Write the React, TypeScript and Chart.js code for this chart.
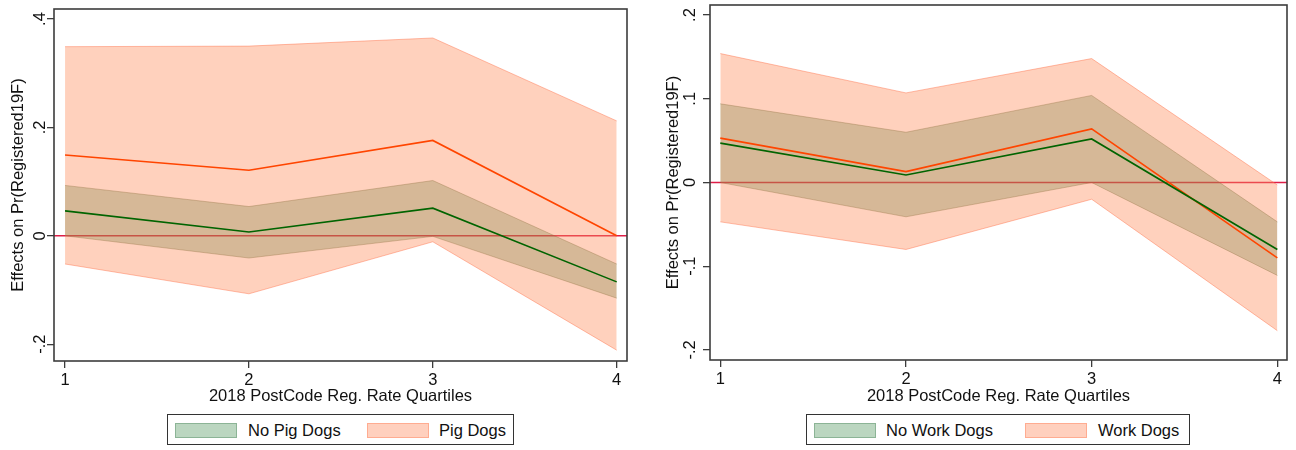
import React, { useEffect, useRef } from 'react';
import { Chart, registerables } from 'chart.js';
Chart.register(...registerables);

// ---------- data ----------
const quartiles = [1, 2, 3, 4];
const xTickValues = [1, 2, 3, 4];
const xTickLabels = ['1', '2', '3', '4'];

// Left panel: Pig Dogs
const pigEst = [0.149, 0.121, 0.176, 0.0];
const pigUpper = [0.349, 0.35, 0.365, 0.212];
const pigLower = [-0.052, -0.107, -0.011, -0.211];
const noPigEst = [0.046, 0.007, 0.051, -0.085];
const noPigUpper = [0.093, 0.054, 0.102, -0.052];
const noPigLower = [0.0, -0.041, -0.001, -0.115];
const leftYTickValues = [-0.2, 0, 0.2, 0.4];
const leftYTickLabels = ['-.2', '0', '.2', '.4'];
const leftLegendLabels = ['No Pig Dogs', 'Pig Dogs'];

// Right panel: Work Dogs
const workEst = [0.053, 0.013, 0.064, -0.09];
const workUpper = [0.154, 0.107, 0.148, -0.003];
const workLower = [-0.047, -0.08, -0.02, -0.177];
const noWorkEst = [0.047, 0.009, 0.052, -0.08];
const noWorkUpper = [0.094, 0.06, 0.104, -0.047];
const noWorkLower = [0.0, -0.041, 0.0, -0.111];
const rightYTickValues = [-0.2, -0.1, 0, 0.1, 0.2];
const rightYTickLabels = ['-.2', '-.1', '0', '.1', '.2'];
const rightLegendLabels = ['No Work Dogs', 'Work Dogs'];

const yTitle = 'Effects on Pr(Registered19F)';
const xTitle = '2018 PostCode Reg. Rate Quartiles';

// ---------- styles ----------
const FONT = '"Liberation Sans", Arial, Helvetica, sans-serif';
const FS = 16.5;
const TEXT = '#111';
const GREEN_FILL = 'rgba(0,100,20,0.27)';
const GREEN_EDGE = 'rgba(70,90,40,0.35)';
const ORANGE_FILL = 'rgba(255,140,90,0.4)';
const ORANGE_EDGE = 'rgba(255,110,70,0.45)';
const ORANGE_LINE = '#ff4500';
const GREEN_LINE = '#006400';
const ZERO_LINE = 'rgb(222,30,72)';
const FRAME = '#3c3c3c';

const pts = (ys: number[]) => quartiles.map((x, i) => ({ x, y: ys[i] }));

const zeroLinePlugin = {
  id: 'zeroLine',
  beforeDatasetsDraw(chart: any) {
    const { ctx, chartArea, scales } = chart;
    const y = scales.y.getPixelForValue(0);
    ctx.save();
    ctx.strokeStyle = ZERO_LINE;
    ctx.lineWidth = 1.5;
    ctx.beginPath();
    ctx.moveTo(chartArea.left, y);
    ctx.lineTo(chartArea.right, y);
    ctx.stroke();
    ctx.restore();
  },
};

const framePlugin = {
  id: 'frame',
  afterDatasetsDraw(chart: any) {
    const { ctx, chartArea } = chart;
    ctx.save();
    ctx.strokeStyle = FRAME;
    ctx.lineWidth = 1.6;
    ctx.strokeRect(chartArea.left, chartArea.top, chartArea.right - chartArea.left, chartArea.bottom - chartArea.top);
    ctx.restore();
  },
};

interface PanelSpec {
  est: number[]; upper: number[]; lower: number[];
  baseEst: number[]; baseUpper: number[]; baseLower: number[];
  yMin: number; yMax: number; xMin: number; xMax: number;
  yTicks: number[]; yLabels: string[];
  padTop: number; padRight: number; yWidth: number; xHeight: number;
  yTitlePad: number; yTickPad: number;
}

function buildConfig(s: PanelSpec): any {
  const line = (data: number[], color: string, width: number, fill: any, bg: string, order: number) => ({
    data: pts(data),
    borderColor: color,
    borderWidth: width,
    backgroundColor: bg,
    fill,
    pointRadius: 0,
    tension: 0,
    order,
  });
  return {
    type: 'line',
    data: {
      datasets: [
        line(s.baseUpper, GREEN_EDGE, 1, '+1', GREEN_FILL, 60),
        line(s.baseLower, GREEN_EDGE, 1, false, GREEN_FILL, 50),
        line(s.upper, ORANGE_EDGE, 1, '+1', ORANGE_FILL, 40),
        line(s.lower, ORANGE_EDGE, 1, false, ORANGE_FILL, 30),
        line(s.est, ORANGE_LINE, 1.6, false, ORANGE_LINE, 20),
        line(s.baseEst, GREEN_LINE, 1.6, false, GREEN_LINE, 10),
      ],
    },
    options: {
      responsive: false,
      animation: false,
      devicePixelRatio: 1,
      layout: { padding: { left: 0, right: s.padRight, top: s.padTop, bottom: 0 } },
      plugins: { legend: { display: false }, tooltip: { enabled: false } },
      scales: {
        x: {
          type: 'linear',
          min: s.xMin,
          max: s.xMax,
          afterBuildTicks: (sc: any) => { sc.ticks = xTickValues.map((v) => ({ value: v })); },
          afterFit: (sc: any) => { sc.height = s.xHeight; sc.paddingLeft = 0; sc.paddingRight = 0; },
          ticks: {
            callback: (_v: any, i: number) => xTickLabels[i],
            font: { family: FONT, size: FS },
            color: TEXT,
            padding: 3,
            maxRotation: 0,
            autoSkip: false,
          },
          grid: { display: true, drawOnChartArea: false, drawTicks: true, tickLength: 7, color: FRAME, lineWidth: 1.3 },
          border: { display: false },
          title: { display: true, text: xTitle, font: { family: FONT, size: FS }, color: TEXT, padding: { top: 0, bottom: 4 } },
        },
        y: {
          type: 'linear',
          min: s.yMin,
          max: s.yMax,
          afterBuildTicks: (sc: any) => { sc.ticks = s.yTicks.map((v) => ({ value: v })); },
          afterFit: (sc: any) => { sc.width = s.yWidth; sc.paddingTop = 0; sc.paddingBottom = 0; },
          ticks: {
            callback: (_v: any, i: number) => s.yLabels[i],
            font: { family: FONT, size: FS },
            color: TEXT,
            padding: s.yTickPad,
            minRotation: 90,
            maxRotation: 90,
            crossAlign: 'center',
            autoSkip: false,
          },
          grid: { display: true, drawOnChartArea: false, drawTicks: true, tickLength: 7, color: FRAME, lineWidth: 1.3 },
          border: { display: false },
          title: { display: true, text: yTitle, font: { family: FONT, size: FS }, color: TEXT, padding: { top: s.yTitlePad, bottom: 0 } },
        },
      },
    },
    plugins: [zeroLinePlugin, framePlugin],
  };
}

function Panel({ spec, left, width }: { spec: PanelSpec; left: number; width: number }) {
  const ref = useRef<HTMLCanvasElement>(null);
  useEffect(() => {
    if (!ref.current) return;
    const chart = new Chart(ref.current, buildConfig(spec));
    return () => chart.destroy();
  }, []);
  return (
    <canvas ref={ref} width={width} height={410} style={{ position: 'absolute', left, top: 0, width, height: 410 }} />
  );
}

function Legend({ left, width, labels, sw1, tx1, sw2, tx2 }: { left: number; width: number; labels: string[]; sw1: number; tx1: number; sw2: number; tx2: number }) {
  const sw = (x: number, bg: string, bd: string) => (
    <div style={{ position: 'absolute', left: x, top: 8, width: 62, height: 15, boxSizing: 'border-box', background: bg, border: `1.5px solid ${bd}` }} />
  );
  const tx = (x: number, t: string) => (
    <span style={{ position: 'absolute', left: x, top: 0, height: 31, lineHeight: '31px', fontFamily: FONT, fontSize: FS, color: TEXT, whiteSpace: 'nowrap' }}>{t}</span>
  );
  return (
    <div style={{ position: 'absolute', left, top: 414, width, height: 31, boxSizing: 'border-box', border: '1.5px solid #333', background: '#fff' }}>
      {sw(sw1, 'rgb(187,214,192)', 'rgb(140,180,150)')}
      {tx(tx1, labels[0])}
      {sw(sw2, 'rgb(255,208,190)', 'rgb(255,172,145)')}
      {tx(tx2, labels[1])}
    </div>
  );
}

const leftSpec: PanelSpec = {
  est: pigEst, upper: pigUpper, lower: pigLower,
  baseEst: noPigEst, baseUpper: noPigUpper, baseLower: noPigLower,
  yMin: -0.231, yMax: 0.4185, xMin: 0.94, xMax: 4.056,
  yTicks: leftYTickValues, yLabels: leftYTickLabels,
  padTop: 9, padRight: 13, yWidth: 54, xHeight: 49,
  yTitlePad: 8.6, yTickPad: -3,
};

const rightSpec: PanelSpec = {
  est: workEst, upper: workUpper, lower: workLower,
  baseEst: noWorkEst, baseUpper: noWorkUpper, baseLower: noWorkLower,
  yMin: -0.212, yMax: 0.212, xMin: 0.9445, xMax: 4.052,
  yTicks: rightYTickValues, yLabels: rightYTickLabels,
  padTop: 5, padRight: 9, yWidth: 70, xHeight: 50,
  yTitlePad: 24, yTickPad: 3.4,
};

export default function App() {
  return (
    <div style={{ position: 'absolute', left: 0, top: 0, width: 1296, height: 450, background: '#fff', overflow: 'hidden' }}>
      <Panel spec={leftSpec} left={0} width={640} />
      <Panel spec={rightSpec} left={640} width={656} />
      <Legend left={167} width={347} labels={leftLegendLabels} sw1={7} tx1={80} sw2={199} tx2={271} />
      <Legend left={806} width={384} labels={rightLegendLabels} sw1={7} tx1={79} sw2={218} tx2={291} />
    </div>
  );
}
